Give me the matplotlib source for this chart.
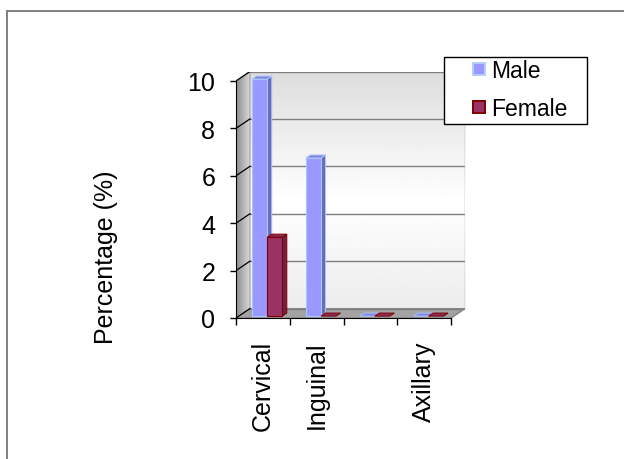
import numpy as np
import matplotlib.pyplot as plt
from matplotlib.patches import Polygon, Rectangle
from matplotlib.lines import Line2D

categories = ['Cervical', 'Inguinal', '', 'Axillary']
male = [10.0, 6.67, 0.0, 0.0]
female = [3.33, 0.0, 0.0, 0.0]
yticks = [0, 2, 4, 6, 8, 10]
ymax = 10

plt.rcParams['font.family'] = ['Liberation Sans', 'DejaVu Sans']
FS = 18
FS_LEG = 16.5

W, H = 624, 460
fig = plt.figure(figsize=(W / 100, H / 100), dpi=100)


def fx(px):
    return px / W


def fy(py):
    return 1 - py / H


n = len(categories)
# depth of the 3-d box, in data units
DX = 0.26
DY = 0.40

ax = fig.add_axes([fx(236), fy(319), 229 / W, 246.5 / H])
ax.patch.set_visible(False)

# back wall with a soft vertical shading
shade = np.concatenate([np.linspace(0.87, 1.0, 55), np.linspace(1.0, 0.93, 45)])[:, None]
ax.imshow(shade, cmap='gray', vmin=0, vmax=1, extent=(DX, n + DX, DY, ymax + DY),
          origin='upper', aspect='auto', zorder=0, interpolation='bilinear')

# left side wall, darker towards the front
wall = Polygon([(0, 0), (0, ymax), (DX, ymax + DY), (DX, DY)], closed=True,
               facecolor='none', edgecolor='#a0a0a0', lw=0.8, zorder=1)
ax.add_patch(wall)
img = ax.imshow(np.linspace(0.55, 0.85, 50)[None, :], cmap='gray', vmin=0, vmax=1,
                extent=(0, DX, 0, ymax + DY), aspect='auto', zorder=0.5,
                interpolation='bilinear')
img.set_clip_path(wall)

# floor
ax.add_patch(Polygon([(0, 0), (n, 0), (n + DX, DY), (DX, DY)], closed=True,
                     facecolor='#a3a3a3', edgecolor='#8a8a8a', lw=0.8, zorder=1))

# gridlines on the back wall and on the side wall
for y in yticks:
    ax.plot([DX, n + DX], [y + DY, y + DY], color='#7f7f7f', lw=1.0, zorder=1.2)
    ax.plot([0, DX], [y, y + DY], color='black', lw=0.9, zorder=1.2)
ax.plot([n + DX, n + DX], [DY, ymax + DY], color='#a0a0a0', lw=1.0, zorder=1.2)
ax.plot([n, n + DX], [0, DY], color='#8a8a8a', lw=1.0, zorder=1.2)

styles = [
    dict(front='#9999ff', side='#6b6bb5', top='#8585e0', edge='#a8c4ff'),
    dict(front='#993366', side='#6e2248', top='#8a2e5c', edge='#800000'),
]
bw = 0.28
d0, d1 = 0.2, 0.52


def draw_bar(x0, v, st, z):
    x1 = x0 + bw
    ax0, ay0 = d0 * DX, d0 * DY
    ax1, ay1 = d1 * DX, d1 * DY
    top = [(x0 + ax0, v + ay0), (x1 + ax0, v + ay0), (x1 + ax1, v + ay1), (x0 + ax1, v + ay1)]
    if v > 0:
        side = [(x1 + ax0, ay0), (x1 + ax1, ay1), (x1 + ax1, v + ay1), (x1 + ax0, v + ay0)]
        ax.add_patch(Polygon(side, closed=True, facecolor=st['side'], edgecolor=st['edge'],
                             lw=0.7, zorder=z))
    ax.add_patch(Polygon(top, closed=True, facecolor=st['top'], edgecolor=st['edge'],
                         lw=0.7, zorder=z))
    if v > 0:
        ax.add_patch(Rectangle((x0 + ax0, ay0), bw, v, facecolor=st['front'],
                               edgecolor=st['edge'], lw=0.8, zorder=z))


z = 2
for i in range(n):
    for s, vals in enumerate([male, female]):
        draw_bar(i + 0.25 + s * bw, vals[i], styles[s], z)
        z += 0.01

ax.set_xlim(0, n + DX)
ax.set_ylim(0, ymax + DY)

for side in ['top', 'right']:
    ax.spines[side].set_visible(False)
ax.spines['left'].set_bounds(0, ymax)
ax.spines['bottom'].set_bounds(0, n)
ax.spines['left'].set_zorder(3)
ax.spines['bottom'].set_zorder(3)

ax.set_yticks(yticks)
ax.set_yticklabels([str(t) for t in yticks], fontsize=FS)
ax.tick_params(axis='y', length=4.5, width=1, pad=10.5)

ax.set_xticks(range(n + 1))
ax.set_xticklabels([''] * (n + 1))
ax.set_xticks(np.arange(n) + 0.5, minor=True)
ax.set_xticklabels(categories, minor=True, rotation=90, fontsize=FS)
ax.tick_params(axis='x', which='major', length=5, width=1)
ax.tick_params(axis='x', which='minor', length=0, pad=16)

fig.text(fx(106), fy(257), 'Percentage (%)', rotation=90, ha='center', va='center',
         fontsize=FS)

# legend box and entries
fig.add_artist(Rectangle((fx(444), fy(125)), fx(587) - fx(444), fy(58) - fy(125),
                         transform=fig.transFigure, facecolor='white', edgecolor='black',
                         lw=1.0, zorder=4))
handles = [Line2D([], [], ls='none', marker='s', markersize=8.5, markeredgewidth=1.4,
                  markerfacecolor='#9999ff', markeredgecolor='#b3ccff'),
           Line2D([], [], ls='none', marker='s', markersize=8.5, markeredgewidth=1.4,
                  markerfacecolor='#993366', markeredgecolor='#800000')]
leg = fig.legend(handles, ['Male', 'Female'], loc='upper left',
                 bbox_to_anchor=(fx(472), fy(60)), frameon=False, borderpad=0,
                 borderaxespad=0, handlelength=0.6, handleheight=0.6,
                 handletextpad=0.25, labelspacing=0.65, fontsize=FS_LEG)
leg.set_zorder(5)

# outer chart border
fig.add_artist(Rectangle((fx(7), -0.1), 1.2, fy(12) + 0.1, transform=fig.transFigure,
                         fill=False, edgecolor='#808080', lw=1.4, zorder=6))

fig.savefig('out.png', dpi=100)
